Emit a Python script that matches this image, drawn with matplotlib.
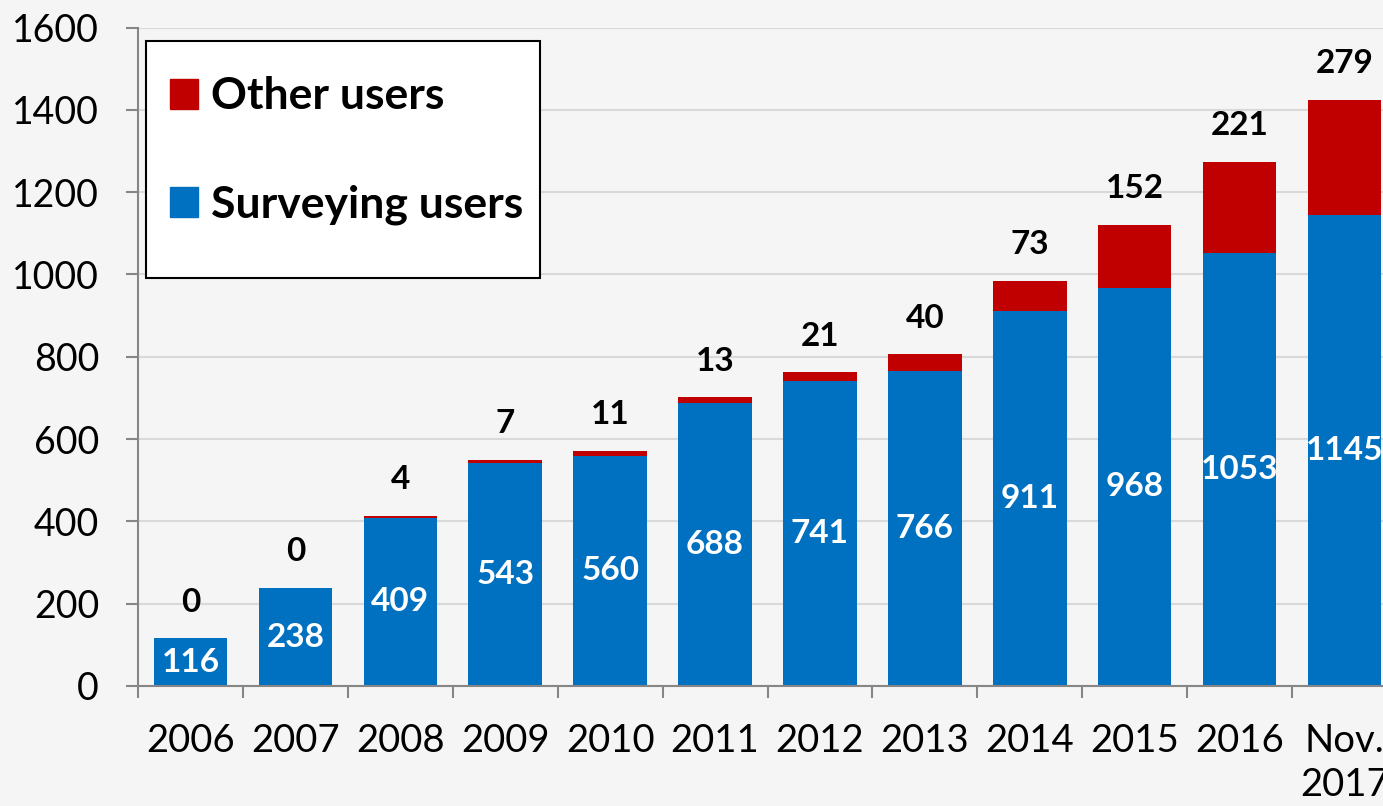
import numpy as np
import matplotlib.pyplot as plt
from matplotlib.patches import Patch, Rectangle

years = ['2006', '2007', '2008', '2009', '2010', '2011', '2012',
         '2013', '2014', '2015', '2016', 'Nov.\n2017']
surveying = [116, 238, 409, 543, 560, 688, 741, 766, 911, 968, 1053, 1145]
other = [0, 0, 4, 7, 11, 13, 21, 40, 73, 152, 221, 279]

blue = '#0070C0'
red = '#C00000'
bg = '#f5f5f5'

plt.rcParams['font.family'] = ['Lato', 'DejaVu Sans']

fig = plt.figure(figsize=(13.83, 8.06), dpi=100, facecolor=bg)
ax = fig.add_axes([138 / 1383, 120 / 806, 1259 / 1383, 658.5 / 806])
ax.set_facecolor(bg)

x = np.arange(len(years))
ax.bar(x, surveying, width=0.7, color=blue, zorder=2, label='Surveying users')
ax.bar(x, other, width=0.7, bottom=surveying, color=red, zorder=2, label='Other users')

for xi, s, o in zip(x, surveying, other):
    ax.text(xi, s / 2, str(s), ha='center', va='center', color='white',
            fontsize=24, fontweight='bold', zorder=3)
    ax.text(xi, s + o + 88, str(o), ha='center', va='center', color='black',
            fontsize=24, fontweight='bold', zorder=3)

ax.set_xlim(-0.5, len(years) - 0.5)
ax.set_ylim(0, 1600)
ax.set_yticks(np.arange(0, 1601, 200))
ax.tick_params(axis='y', labelsize=27, length=9, width=1.5, color='#868686', pad=19)
ax.grid(axis='y', color='#d9d9d9', linewidth=1.5, zorder=0)

ax.set_xticks(np.arange(-0.5, len(years), 1))
ax.set_xticklabels([])
ax.tick_params(axis='x', which='major', length=8.6, width=1.5, color='#868686')
ax.set_xticks(x, minor=True)
ax.set_xticklabels(years, minor=True, fontsize=27.5, linespacing=1.25)
ax.tick_params(axis='x', which='minor', length=0, pad=27)
for lbl in ax.get_xticklabels(minor=True):
    lbl.set_verticalalignment('top')

for side in ['top', 'right']:
    ax.spines[side].set_visible(False)
for side in ['left', 'bottom']:
    ax.spines[side].set_color('#868686')
    ax.spines[side].set_linewidth(1.5)

# legend box drawn separately so it can be taller than the legend itself
box = Rectangle((146 / 1383, 528 / 806), 394 / 1383, 237 / 806, transform=fig.transFigure,
                facecolor='white', edgecolor='black', linewidth=1.5, zorder=4)
ax.add_patch(box)
box.set_clip_on(False)

handles = [Patch(color=red, label='Other users'), Patch(color=blue, label='Surveying users')]
leg = ax.legend(handles=handles, loc='upper left', bbox_to_anchor=(8 / 1259, 1 - 24.5 / 658.5),
                prop={'size': 32, 'weight': 'bold'}, frameon=False,
                handlelength=0.61, handleheight=0.65, handletextpad=0.3,
                labelspacing=1.53, borderpad=0.55, borderaxespad=0)
leg.set_zorder(5)

fig.savefig('out.png', dpi=100, facecolor=bg)
